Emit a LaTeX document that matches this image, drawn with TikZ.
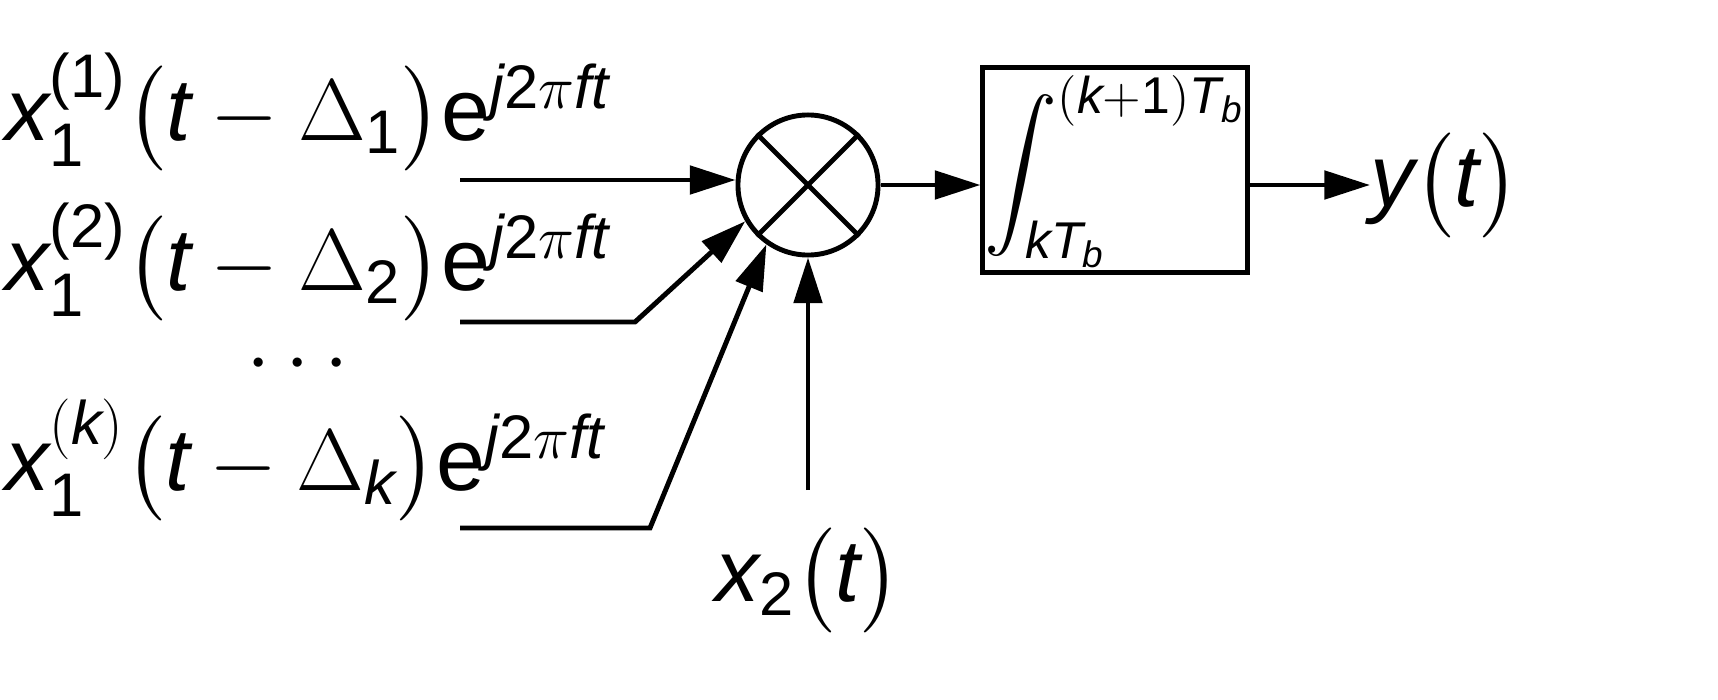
\documentclass[tikz,border=0pt]{standalone}
\usepackage{amsmath}
\usepackage{fontspec}
\setmainfont{Liberation Sans}
\usetikzlibrary{arrows.meta}
\newcommand\IV[1]{\text{\itshape #1}}
\newcommand\RV[1]{\text{#1}}
\begin{document}
\begin{tikzpicture}[x=0.01cm,y=-0.01cm,
  lbl/.style={font=\fontsize{25}{30}\selectfont,inner sep=0pt},
  wire/.style={line width=1.4pt},
  arr/.style={wire,-{Triangle[length=13pt,width=8pt]}}]
\useasboundingbox (0,0) rectangle (1718,700);
\node[lbl,anchor=base west] (l1) at (5,140) {$\IV{x}_{\RV{1}}^{\RV{(1)}}\bigl(\IV{t}-\Delta_{\RV{1}}\bigr)\RV{e}^{\IV{j}\RV{2}\pi\IV{ft}}$};
\node[lbl,anchor=base west] (l2) at (5,290) {$\IV{x}_{\RV{1}}^{\RV{(2)}}\bigl(\IV{t}-\Delta_{\RV{2}}\bigr)\RV{e}^{\IV{j}\RV{2}\pi\IV{ft}}$};
\node[lbl] (dots) at (305,365) {$\cdots$};
\node[lbl,anchor=base west] (l3) at (5,490) {$\IV{x}_{\RV{1}}^{(\IV{k})}\bigl(\IV{t}-\Delta_{\IV{k}}\bigr)\RV{e}^{\IV{j}\RV{2}\pi\IV{ft}}$};
\node[wire,draw,circle,minimum size=1.4cm,inner sep=0pt] (m) at (808,185) {};
\draw[wire] (m.45) -- (m.225) (m.135) -- (m.315);
\node[wire,draw,minimum width=2.64cm,minimum height=2.04cm] (int) at (1115,170) {};
\node[font=\fontsize{21}{25}\selectfont,inner sep=0pt] (intt) at (1115,172) {$\displaystyle\int\nolimits_{\IV{k}\IV{T}_{\IV{b}}}^{(\IV{k}+\RV{1})\IV{T}_{\IV{b}}}$};
\node[lbl,anchor=west] (y) at (1370,185) {$\IV{y}\bigl(\IV{t}\bigr)$};
\node[lbl] (x2) at (808,580) {$\IV{x}_{\RV{2}}\bigl(\IV{t}\bigr)$};
\coordinate (s1) at (460,180);
\coordinate (s2) at (460,322);
\coordinate (b2) at (635,322);
\coordinate (s3) at (460,528);
\coordinate (b3) at (650,528);
\coordinate (s4) at (808,490);
\draw[arr] (s1) -- (m.west |- s1);
\draw[arr] (s2) -- (b2) -- (m.210);
\draw[arr] (s3) -- (b3) -- (m.235);
\draw[arr] (s4) -- (m.south);
\draw[arr] (m.east) -- (int.west |- m.east);
\draw[arr] (int.east |- m.east) -- (y.west);
\end{tikzpicture}
\end{document}
